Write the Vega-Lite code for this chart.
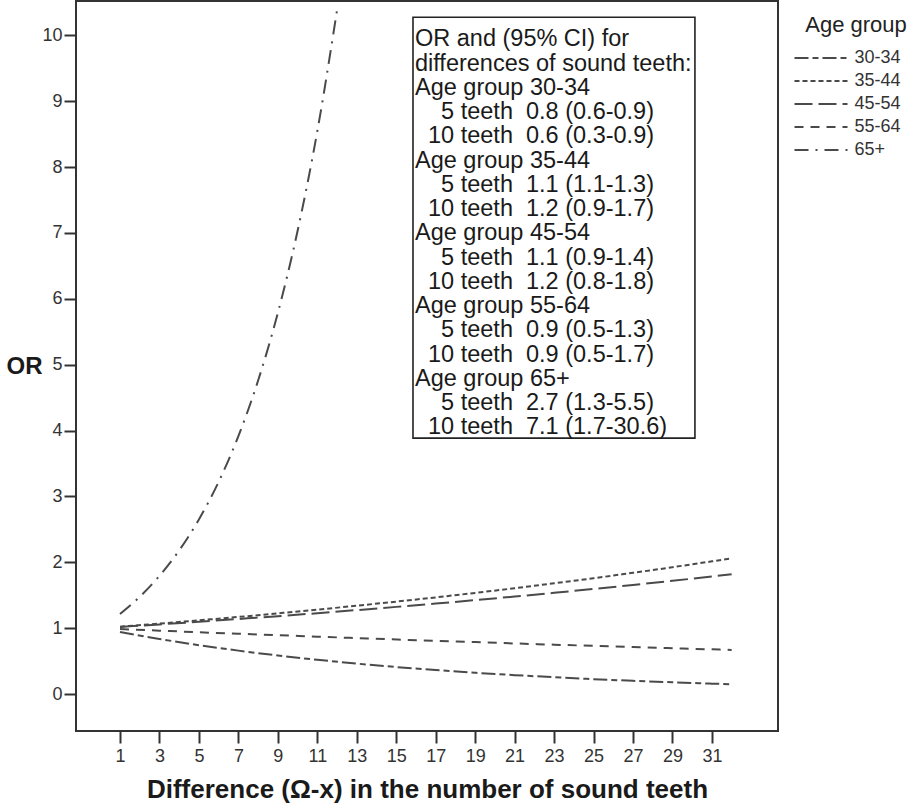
{
  "$schema": "https://vega.github.io/schema/vega-lite/v6.json",
  "width": 702,
  "height": 730,
  "autosize": "none",
  "padding": {"left": 76, "top": 1, "right": 138, "bottom": 72},
  "background": "white",
  "config": {
    "font": "Liberation Sans",
    "view": {"stroke": "#333333", "strokeWidth": 2},
    "axis": {"grid": false, "domain": false, "tickColor": "#333333", "tickWidth": 2, "tickSize": 12, "labelColor": "#333333", "labelFontSize": 18, "titleColor": "#1a1a1a", "titleFontWeight": "bold"}
  },
  "data": {
    "values": [
      {"d": 1, "or": 0.942, "g": "30-34"}, {"d": 3, "or": 0.837, "g": "30-34"}, {"d": 5, "or": 0.743, "g": "30-34"}, {"d": 7, "or": 0.66, "g": "30-34"}, {"d": 9, "or": 0.586, "g": "30-34"}, {"d": 11, "or": 0.521, "g": "30-34"}, {"d": 13, "or": 0.463, "g": "30-34"}, {"d": 15, "or": 0.411, "g": "30-34"}, {"d": 17, "or": 0.365, "g": "30-34"}, {"d": 19, "or": 0.324, "g": "30-34"}, {"d": 21, "or": 0.288, "g": "30-34"}, {"d": 23, "or": 0.256, "g": "30-34"}, {"d": 25, "or": 0.227, "g": "30-34"}, {"d": 27, "or": 0.202, "g": "30-34"}, {"d": 29, "or": 0.179, "g": "30-34"}, {"d": 31, "or": 0.159, "g": "30-34"}, {"d": 32, "or": 0.15, "g": "30-34"},
      {"d": 1, "or": 1.023, "g": "35-44"}, {"d": 3, "or": 1.07, "g": "35-44"}, {"d": 5, "or": 1.12, "g": "35-44"}, {"d": 7, "or": 1.171, "g": "35-44"}, {"d": 9, "or": 1.226, "g": "35-44"}, {"d": 11, "or": 1.282, "g": "35-44"}, {"d": 13, "or": 1.342, "g": "35-44"}, {"d": 15, "or": 1.404, "g": "35-44"}, {"d": 17, "or": 1.468, "g": "35-44"}, {"d": 19, "or": 1.536, "g": "35-44"}, {"d": 21, "or": 1.607, "g": "35-44"}, {"d": 23, "or": 1.682, "g": "35-44"}, {"d": 25, "or": 1.759, "g": "35-44"}, {"d": 27, "or": 1.841, "g": "35-44"}, {"d": 29, "or": 1.926, "g": "35-44"}, {"d": 31, "or": 2.015, "g": "35-44"}, {"d": 32, "or": 2.061, "g": "35-44"},
      {"d": 1, "or": 1.019, "g": "45-54"}, {"d": 3, "or": 1.058, "g": "45-54"}, {"d": 5, "or": 1.098, "g": "45-54"}, {"d": 7, "or": 1.14, "g": "45-54"}, {"d": 9, "or": 1.183, "g": "45-54"}, {"d": 11, "or": 1.228, "g": "45-54"}, {"d": 13, "or": 1.275, "g": "45-54"}, {"d": 15, "or": 1.324, "g": "45-54"}, {"d": 17, "or": 1.374, "g": "45-54"}, {"d": 19, "or": 1.427, "g": "45-54"}, {"d": 21, "or": 1.481, "g": "45-54"}, {"d": 23, "or": 1.537, "g": "45-54"}, {"d": 25, "or": 1.596, "g": "45-54"}, {"d": 27, "or": 1.657, "g": "45-54"}, {"d": 29, "or": 1.72, "g": "45-54"}, {"d": 31, "or": 1.785, "g": "45-54"}, {"d": 32, "or": 1.819, "g": "45-54"},
      {"d": 1, "or": 0.988, "g": "55-64"}, {"d": 3, "or": 0.963, "g": "55-64"}, {"d": 5, "or": 0.939, "g": "55-64"}, {"d": 7, "or": 0.916, "g": "55-64"}, {"d": 9, "or": 0.894, "g": "55-64"}, {"d": 11, "or": 0.872, "g": "55-64"}, {"d": 13, "or": 0.85, "g": "55-64"}, {"d": 15, "or": 0.829, "g": "55-64"}, {"d": 17, "or": 0.809, "g": "55-64"}, {"d": 19, "or": 0.789, "g": "55-64"}, {"d": 21, "or": 0.769, "g": "55-64"}, {"d": 23, "or": 0.75, "g": "55-64"}, {"d": 25, "or": 0.732, "g": "55-64"}, {"d": 27, "or": 0.714, "g": "55-64"}, {"d": 29, "or": 0.696, "g": "55-64"}, {"d": 31, "or": 0.679, "g": "55-64"}, {"d": 32, "or": 0.67, "g": "55-64"},
      {"d": 1, "or": 1.215, "g": "65+"}, {"d": 2, "or": 1.477, "g": "65+"}, {"d": 3, "or": 1.795, "g": "65+"}, {"d": 4, "or": 2.181, "g": "65+"}, {"d": 5, "or": 2.651, "g": "65+"}, {"d": 6, "or": 3.222, "g": "65+"}, {"d": 7, "or": 3.916, "g": "65+"}, {"d": 8, "or": 4.759, "g": "65+"}, {"d": 9, "or": 5.784, "g": "65+"}, {"d": 10, "or": 7.029, "g": "65+"}, {"d": 11, "or": 8.542, "g": "65+"}, {"d": 12, "or": 10.38, "g": "65+"}
    ]
  },
  "layer": [
    {
      "mark": {"type": "line", "color": "#4a4a4a", "strokeWidth": 2, "interpolate": "monotone", "clip": true},
      "encoding": {
        "x": {"field": "d", "type": "quantitative", "scale": {"domain": [-1.23, 34.35], "nice": false, "zero": false},
          "axis": {"values": [1, 3, 5, 7, 9, 11, 13, 15, 17, 19, 21, 23, 25, 27, 29, 31], "format": "d", "labelPadding": 4,
            "title": "Difference (\u03a9-x) in the number of sound teeth", "titleFontSize": 26, "titleBaseline": "alphabetic", "titleY": 66}},
        "y": {"field": "or", "type": "quantitative", "scale": {"domain": [-0.56, 10.52], "nice": false, "zero": false},
          "axis": {"values": [0, 1, 2, 3, 4, 5, 6, 7, 8, 9, 10], "format": "d", "labelPadding": 2,
            "title": "OR", "titleFontSize": 24, "titleAngle": 0, "titleAlign": "center", "titleBaseline": "middle", "titleX": -52, "titleY": 365}},
        "strokeDash": {"field": "g", "type": "nominal",
          "scale": {"domain": ["30-34", "35-44", "45-54", "55-64", "65+"], "range": [[14, 4, 6, 4], [5, 3], [18, 6], [9, 7], [14, 7, 2, 7]]},
          "legend": {"orient": "none", "legendX": 729, "legendY": 14, "title": "Age group", "titleFontSize": 22, "titleFontWeight": "normal", "titleColor": "#222222", "titlePadding": 12, "titleAnchor": "middle",
            "symbolType": "M-5.3,0H5.3", "symbolSize": 100, "symbolStrokeWidth": 2, "symbolStrokeColor": "#4a4a4a", "symbolFillColor": "transparent", "labelFontSize": 18, "labelColor": "#333333", "labelOffset": 24.5, "rowPadding": 5}}
      }
    },
    {
      "data": {"values": [{}]},
      "mark": {"type": "rect", "fill": "white", "fillOpacity": 0, "stroke": "#222222", "strokeWidth": 1.6},
      "encoding": {
        "x": {"datum": 15.85, "type": "quantitative"},
        "x2": {"datum": 30.14},
        "y": {"datum": 10.273, "type": "quantitative"},
        "y2": {"datum": 3.885}
      }
    },
    {
      "data": {"values": [{}]},
      "mark": {"type": "text", "align": "left", "baseline": "alphabetic", "fontSize": 23.5, "lineHeight": 24.25, "color": "#1a1a1a",
        "text": [
          "OR and (95% CI) for",
          "differences of sound teeth:",
          "Age group 30-34",
          "\u200b\u00a0\u00a0\u00a0\u00a05 teeth\u00a0\u00a00.8 (0.6-0.9)",
          "\u200b\u00a0\u00a010 teeth\u00a0\u00a00.6 (0.3-0.9)",
          "Age group 35-44",
          "\u200b\u00a0\u00a0\u00a0\u00a05 teeth\u00a0\u00a01.1 (1.1-1.3)",
          "\u200b\u00a0\u00a010 teeth\u00a0\u00a01.2 (0.9-1.7)",
          "Age group 45-54",
          "\u200b\u00a0\u00a0\u00a0\u00a05 teeth\u00a0\u00a01.1 (0.9-1.4)",
          "\u200b\u00a0\u00a010 teeth\u00a0\u00a01.2 (0.8-1.8)",
          "Age group 55-64",
          "\u200b\u00a0\u00a0\u00a0\u00a05 teeth\u00a0\u00a00.9 (0.5-1.3)",
          "\u200b\u00a0\u00a010 teeth\u00a0\u00a00.9 (0.5-1.7)",
          "Age group 65+",
          "\u200b\u00a0\u00a0\u00a0\u00a05 teeth\u00a0\u00a02.7 (1.3-5.5)",
          "\u200b\u00a0\u00a010 teeth\u00a0\u00a07.1 (1.7-30.6)"
        ]},
      "encoding": {
        "x": {"datum": 15.95, "type": "quantitative"},
        "y": {"datum": 9.833, "type": "quantitative"}
      }
    }
  ]
}
